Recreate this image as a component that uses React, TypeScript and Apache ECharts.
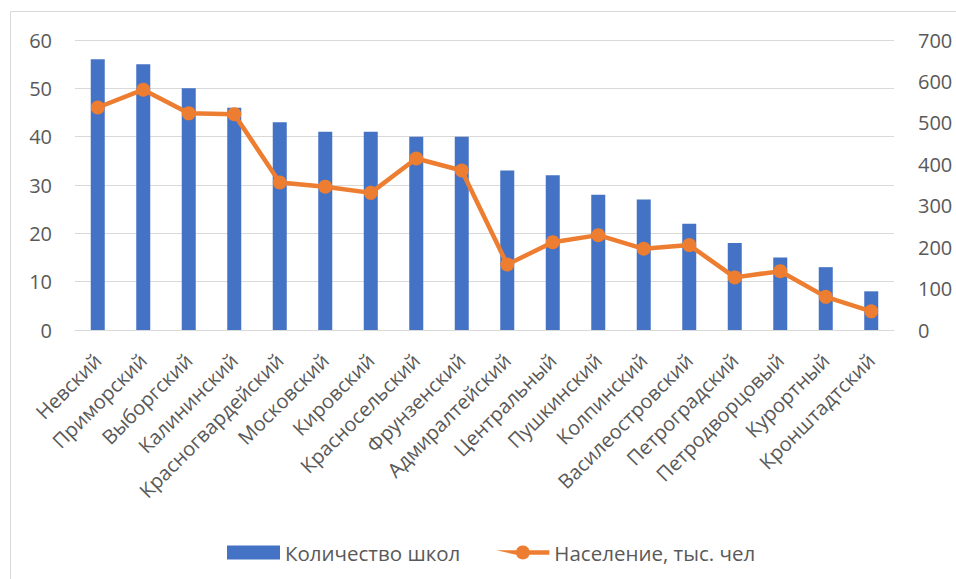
import React, { useEffect, useRef } from "react";
import * as echarts from "echarts";

const districts = [
  "Невский",
  "Приморский",
  "Выборгский",
  "Калининский",
  "Красногвардейский",
  "Московский",
  "Кировский",
  "Красносельский",
  "Фрунзенский",
  "Адмиралтейский",
  "Центральный",
  "Пушкинский",
  "Колпинский",
  "Василеостровский",
  "Петроградский",
  "Петродворцовый",
  "Курортный",
  "Кронштадтский",
];

const schools = [56, 55, 50, 46, 43, 41, 41, 40, 40, 33, 32, 28, 27, 22, 18, 15, 13, 8];

const population = [537, 580, 523, 521, 356, 346, 331, 414, 385, 158, 212, 229, 196, 205, 127, 142, 80, 45];

const schoolsName = "Количество школ";
const populationName = "Население, тыс. чел";

const FONT = "'Open Sans', 'Noto Sans', sans-serif";
const TEXT = "#595959";
const GRID = "#D9D9D9";
const BLUE = "#4472C4";
const ORANGE = "#ED7D31";

// legend glyph for the line series: thick stroke with a round marker in the middle
const LINE_ICON =
  "path://M0,5 L21.43,5 A7.5,7.5 0 0 1 35.57,5 L57,5 L57,10 L35.57,10 A7.5,7.5 0 0 1 21.43,10 Z";

export default function App() {
  const ref = useRef<HTMLDivElement>(null);

  useEffect(() => {
    document.body.style.margin = "0";
    if (!ref.current) return;
    const chart = echarts.init(ref.current, undefined, { renderer: "svg" });
    chart.setOption({
      animation: false,
      backgroundColor: "#ffffff",
      textStyle: { fontFamily: FONT },
      graphic: [
        {
          type: "rect",
          shape: { x: 10.5, y: 11.5, width: 1200, height: 1200 },
          style: { fill: "none", stroke: GRID, lineWidth: 1 },
          silent: true,
        },
      ],
      grid: { left: 75, right: 62, top: 40, bottom: 249, containLabel: false },
      legend: {
        left: 222,
        top: 537,
        itemWidth: 53,
        itemHeight: 14,
        itemGap: 36,
        textStyle: { color: TEXT, fontSize: 20.5, fontFamily: FONT },
        data: [
          { name: schoolsName, icon: "rect", itemStyle: { color: BLUE } },
          { name: populationName, icon: LINE_ICON, itemStyle: { color: ORANGE } },
        ],
      },
      xAxis: {
        type: "category",
        data: districts,
        axisLine: { show: true, lineStyle: { color: GRID, width: 1 } },
        axisTick: { show: false },
        axisLabel: {
          interval: 0,
          rotate: 45,
          color: TEXT,
          fontSize: 20,
          fontFamily: FONT,
          margin: 27,
        },
      },
      yAxis: [
        {
          type: "value",
          min: 0,
          max: 60,
          interval: 10,
          axisLine: { show: false },
          axisTick: { show: false },
          splitLine: { lineStyle: { color: GRID, width: 1 } },
          axisLabel: { color: TEXT, fontSize: 20, fontFamily: FONT, margin: 23 },
        },
        {
          type: "value",
          min: 0,
          max: 700,
          interval: 100,
          axisLine: { show: false },
          axisTick: { show: false },
          splitLine: { show: false },
          axisLabel: { color: TEXT, fontSize: 20, fontFamily: FONT, margin: 24 },
        },
      ],
      series: [
        {
          name: schoolsName,
          type: "bar",
          data: schools,
          yAxisIndex: 0,
          barWidth: 14,
          itemStyle: { color: BLUE },
        },
        {
          name: populationName,
          type: "line",
          data: population,
          yAxisIndex: 1,
          symbol: "circle",
          symbolSize: 14,
          lineStyle: { color: ORANGE, width: 4.5 },
          itemStyle: { color: ORANGE },
        },
      ],
    });
    return () => chart.dispose();
  }, []);

  return <div ref={ref} style={{ width: 956, height: 579 }} />;
}
